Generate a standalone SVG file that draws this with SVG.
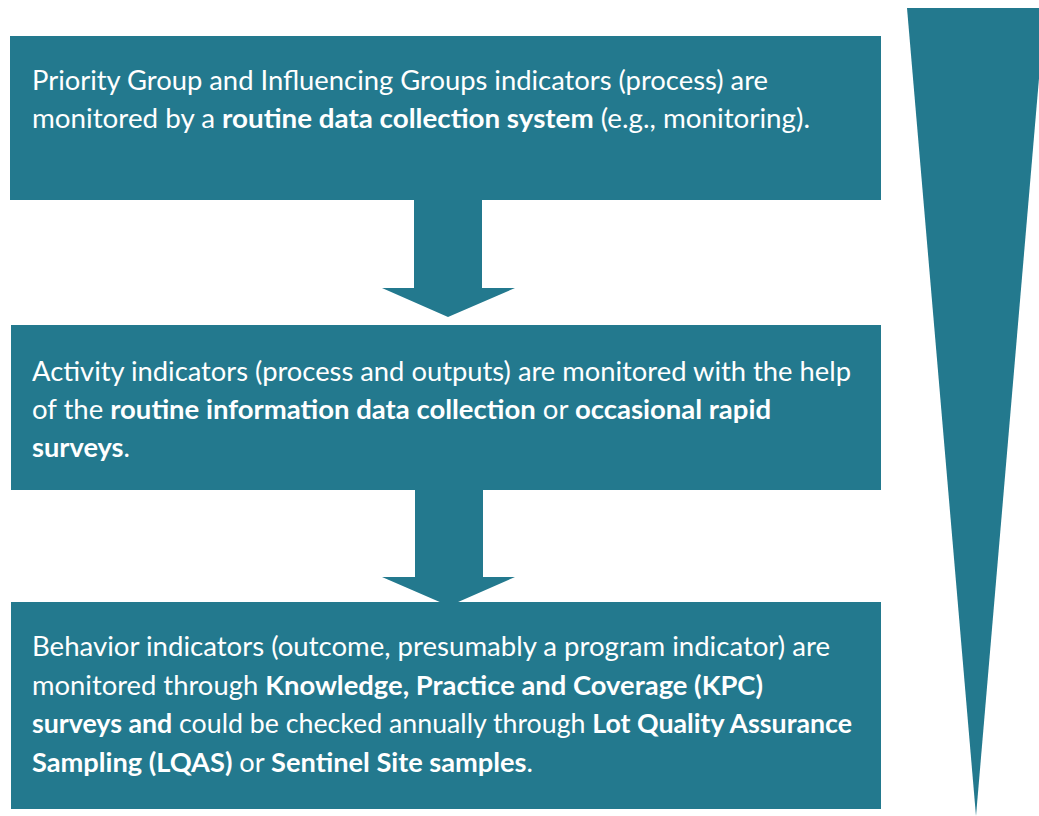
<svg xmlns="http://www.w3.org/2000/svg" width="1039" height="816" viewBox="0 0 1039 816">
<style>
.box{fill:#23798e}
.arrow{fill:#23798e}
.t{font-family:Lato,"Open Sans","Liberation Sans",sans-serif;font-size:26px;fill:#ffffff}
.b{font-weight:bold}
</style>
<rect width="1039" height="816" fill="#ffffff"/>
<g id="wedge">
<polygon class="box" points="907,8 1045,8 976,816"/>
</g>
<g id="connectors">
<polygon class="arrow" points="414,198 482,198 482,288 515,288 448,317 382,288 414,288"/>
<polygon class="arrow" points="415,487 483,487 483,577 515,577 449,606 382,577 415,577"/>
</g>
<g id="node1">
<rect class="box" x="10" y="36" width="871" height="164"/>
<text class="t" x="32" y="90" textLength="736" lengthAdjust="spacingAndGlyphs">Priority Group and Influencing Groups indicators (process) are</text>
<text class="t" x="32" y="128" textLength="778" lengthAdjust="spacingAndGlyphs">monitored by a <tspan class="b">routine data collection system</tspan> (e.g., monitoring).</text>
</g>
<g id="node2">
<rect class="box" x="11" y="325" width="870" height="165"/>
<text class="t" x="32" y="381" textLength="819" lengthAdjust="spacingAndGlyphs">Activity indicators (process and outputs) are monitored with the help</text>
<text class="t" x="32" y="419" textLength="739" lengthAdjust="spacingAndGlyphs">of the <tspan class="b">routine information data collection</tspan> or <tspan class="b">occasional rapid</tspan></text>
<text class="t" x="32" y="457" textLength="98" lengthAdjust="spacingAndGlyphs"><tspan class="b">surveys</tspan>.</text>
</g>
<g id="node3">
<rect class="box" x="11" y="602" width="870" height="207"/>
<text class="t" x="32" y="656" textLength="798" lengthAdjust="spacingAndGlyphs">Behavior indicators (outcome, presumably a program indicator) are</text>
<text class="t" x="32" y="695" textLength="731" lengthAdjust="spacingAndGlyphs">monitored through <tspan class="b">Knowledge, Practice and Coverage (KPC)</tspan></text>
<text class="t" x="32" y="733" textLength="820" lengthAdjust="spacingAndGlyphs"><tspan class="b">surveys and</tspan> could be checked annually through <tspan class="b">Lot Quality Assurance</tspan></text>
<text class="t" x="32" y="772" textLength="501" lengthAdjust="spacingAndGlyphs"><tspan class="b">Sampling (LQAS)</tspan> or <tspan class="b">Sentinel Site samples</tspan>.</text>
</g>
</svg>
